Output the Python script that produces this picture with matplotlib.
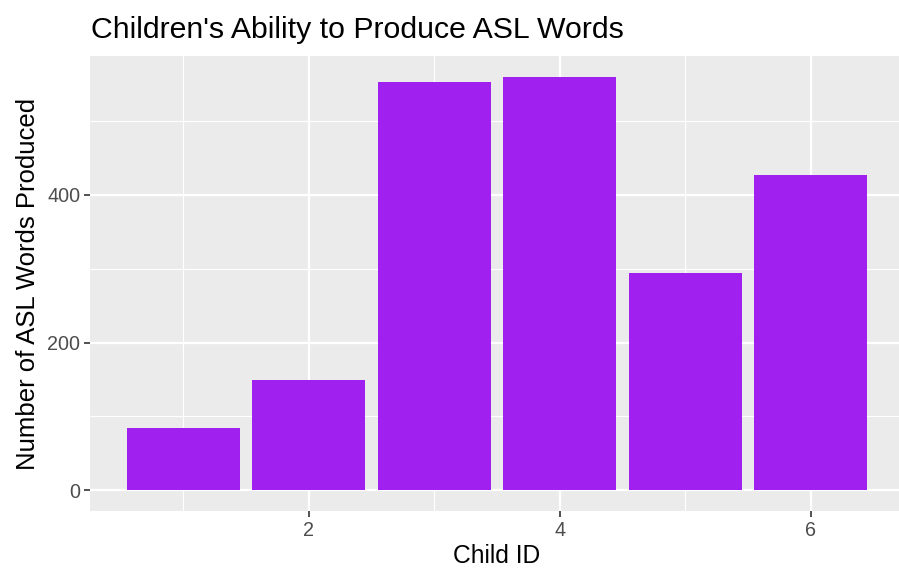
import matplotlib.pyplot as plt
from matplotlib.ticker import MultipleLocator

plt.rcParams['font.family'] = ['Liberation Sans', 'DejaVu Sans']

# data
child_id = [1, 2, 3, 4, 5, 6]
words = [84, 150, 553, 560, 294, 427]

fig = plt.figure(figsize=(8.99, 5.70), dpi=100)
# panel runs slightly past the right edge of the picture, as in the original
ax = fig.add_axes([90 / 899, 1 - 511 / 570, (904 - 90) / 899, (511 - 56) / 570])

ax.set_facecolor('#EBEBEB')
for s in ax.spines.values():
    s.set_visible(False)

ax.bar(child_id, words, width=0.9, color='#A020F0', zorder=3)

ymax = max(words)
ax.set_ylim(-0.05 * ymax, ymax * 1.05)
ax.set_xlim(0.255, 6.745)
ax.xaxis.set_major_locator(MultipleLocator(2))
ax.xaxis.set_minor_locator(MultipleLocator(1))
ax.yaxis.set_major_locator(MultipleLocator(200))
ax.yaxis.set_minor_locator(MultipleLocator(100))

ax.grid(which='major', color='white', linewidth=1.6, zorder=0)
ax.grid(which='minor', color='white', linewidth=0.8, zorder=0)
ax.set_axisbelow(True)

ax.tick_params(which='major', length=4, width=1.2, color='#333333',
               labelcolor='#4D4D4D', labelsize=14.2, pad=3)
ax.tick_params(which='minor', length=0)

ax.set_xlabel('Child ID', fontsize=17.7, labelpad=3)
ax.set_ylabel('Number of ASL Words Produced', fontsize=18.5, labelpad=5)
fig.text(91 / 899, 1 - 30 / 570, "Children's Ability to Produce ASL Words",
         fontsize=21.8, ha='left', va='center')

fig.savefig('out.png', dpi=100)
